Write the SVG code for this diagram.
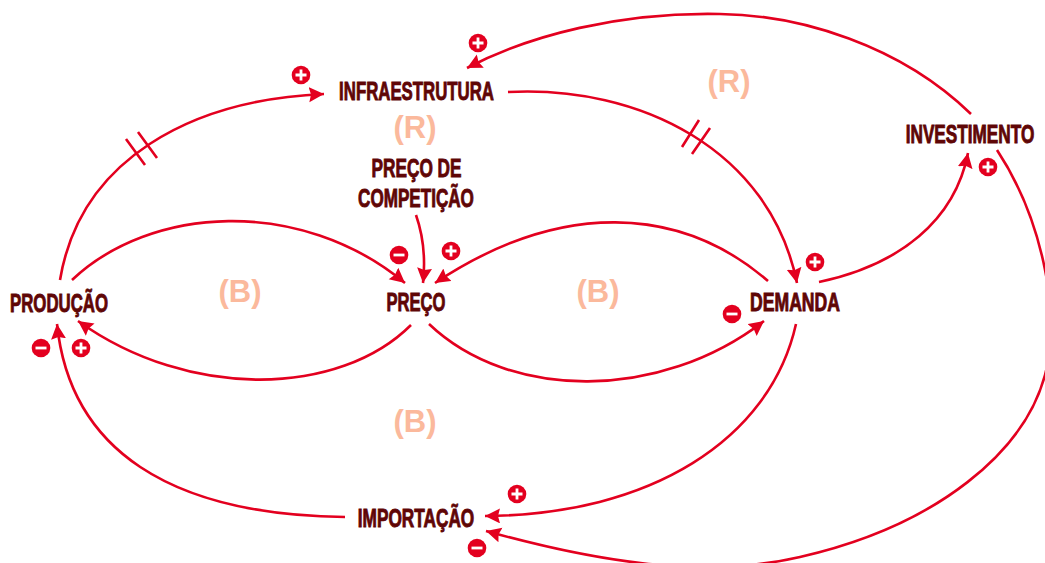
<svg xmlns="http://www.w3.org/2000/svg" width="1045" height="563" viewBox="0 0 1045 563">
<style>
.l{font-family:"Liberation Sans",Arial,sans-serif;font-weight:700;font-size:25px;fill:#5f0606;stroke:#5f0606;stroke-width:.9px;text-anchor:middle}
.p{font-family:"Liberation Sans",Arial,sans-serif;font-weight:700;font-size:31px;fill:#fbb99c;text-anchor:middle}
.c{fill:none;stroke:#e3001f;stroke-width:2.6;marker-end:url(#a)}
.h{fill:none;stroke:#e3001f;stroke-width:2.6}
.s{fill:none;stroke:#fff;stroke-width:2.8}
.d{fill:#e3001f}
</style>
<defs>
<marker id="a" markerUnits="userSpaceOnUse" markerWidth="17" markerHeight="16" refX="15" refY="7.500" orient="auto"><path d="M0,0L15,7.500L0,15L2,7.500Z" fill="#e3001f"/></marker>
<g id="plus"><circle class="d" r="9.300"/><path class="s" d="M-5.500,0H5.500M0,-5.500V5.500"/></g>
<g id="minus"><circle class="d" r="9.300"/><path class="s" d="M-5.500,0H5.500"/></g>
</defs>
<g id="connectors">
<path class="c" d="M60,280C80,160 190,100 324,94"/>
<path class="h" d="M126,139L145,165M138,132L157,158"/>
<path class="c" d="M72,280C150,206 300,196 405,283"/>
<path class="c" d="M411,325C340,396 190,401 78,321"/>
<path class="c" d="M429,324C510,401 660,401 764,321"/>
<path class="c" d="M768,281C680,205 560,200 435,283"/>
<path class="c" d="M416,215C423,235 426,255 423,283"/>
<path class="c" d="M508,92C640,85 770,150 797,283"/>
<path class="h" d="M682,147L699,120M692,154L710,128"/>
<path class="c" d="M819,282C900,265 955,220 968,153"/>
<path class="c" d="M971,114C900,45 800,15 720,14C620,12 530,35 467,68"/>
<path class="c" d="M997,150C1040,215 1062,310 1045,375C1025,450 940,525 800,557C700,580 590,560 486,531"/>
<path class="c" d="M796,324C770,440 650,515 485,516"/>
<path class="c" d="M345,517C170,515 70,450 57,324"/>
</g>
<g id="infraestrutura"><text class="l" transform="translate(416.500,100) scale(.672,1)">INFRAESTRUTURA</text></g>
<g id="preco-competicao"><text class="l" transform="translate(416.500,177) scale(.69,1)">PREÇO DE</text><text class="l" transform="translate(416,207) scale(.684,1)">COMPETIÇÃO</text></g>
<g id="producao"><text class="l" transform="translate(59,312) scale(.672,1)">PRODUÇÃO</text></g>
<g id="preco"><text class="l" transform="translate(416,311) scale(.664,1)">PREÇO</text></g>
<g id="demanda"><text class="l" transform="translate(795,311) scale(.705,1)">DEMANDA</text></g>
<g id="investimento"><text class="l" transform="translate(970,143) scale(.688,1)">INVESTIMENTO</text></g>
<g id="importacao"><text class="l" transform="translate(416,527) scale(.69,1)">IMPORTAÇÃO</text></g>
<g id="loops">
<text class="p" x="729" y="92">(R)</text>
<text class="p" x="415" y="138">(R)</text>
<text class="p" x="240" y="302">(B)</text>
<text class="p" x="598" y="302">(B)</text>
<text class="p" x="415" y="432">(B)</text>
</g>
<g id="signs">
<use href="#plus" x="478" y="43"/>
<use href="#plus" x="301" y="75"/>
<use href="#plus" x="988" y="167"/>
<use href="#minus" x="399" y="255"/>
<use href="#plus" x="451" y="251"/>
<use href="#plus" x="815" y="262"/>
<use href="#minus" x="732" y="314"/>
<use href="#minus" x="41" y="348"/>
<use href="#plus" x="81" y="348"/>
<use href="#plus" x="517" y="494"/>
<use href="#minus" x="477" y="548"/>
</g>
</svg>
